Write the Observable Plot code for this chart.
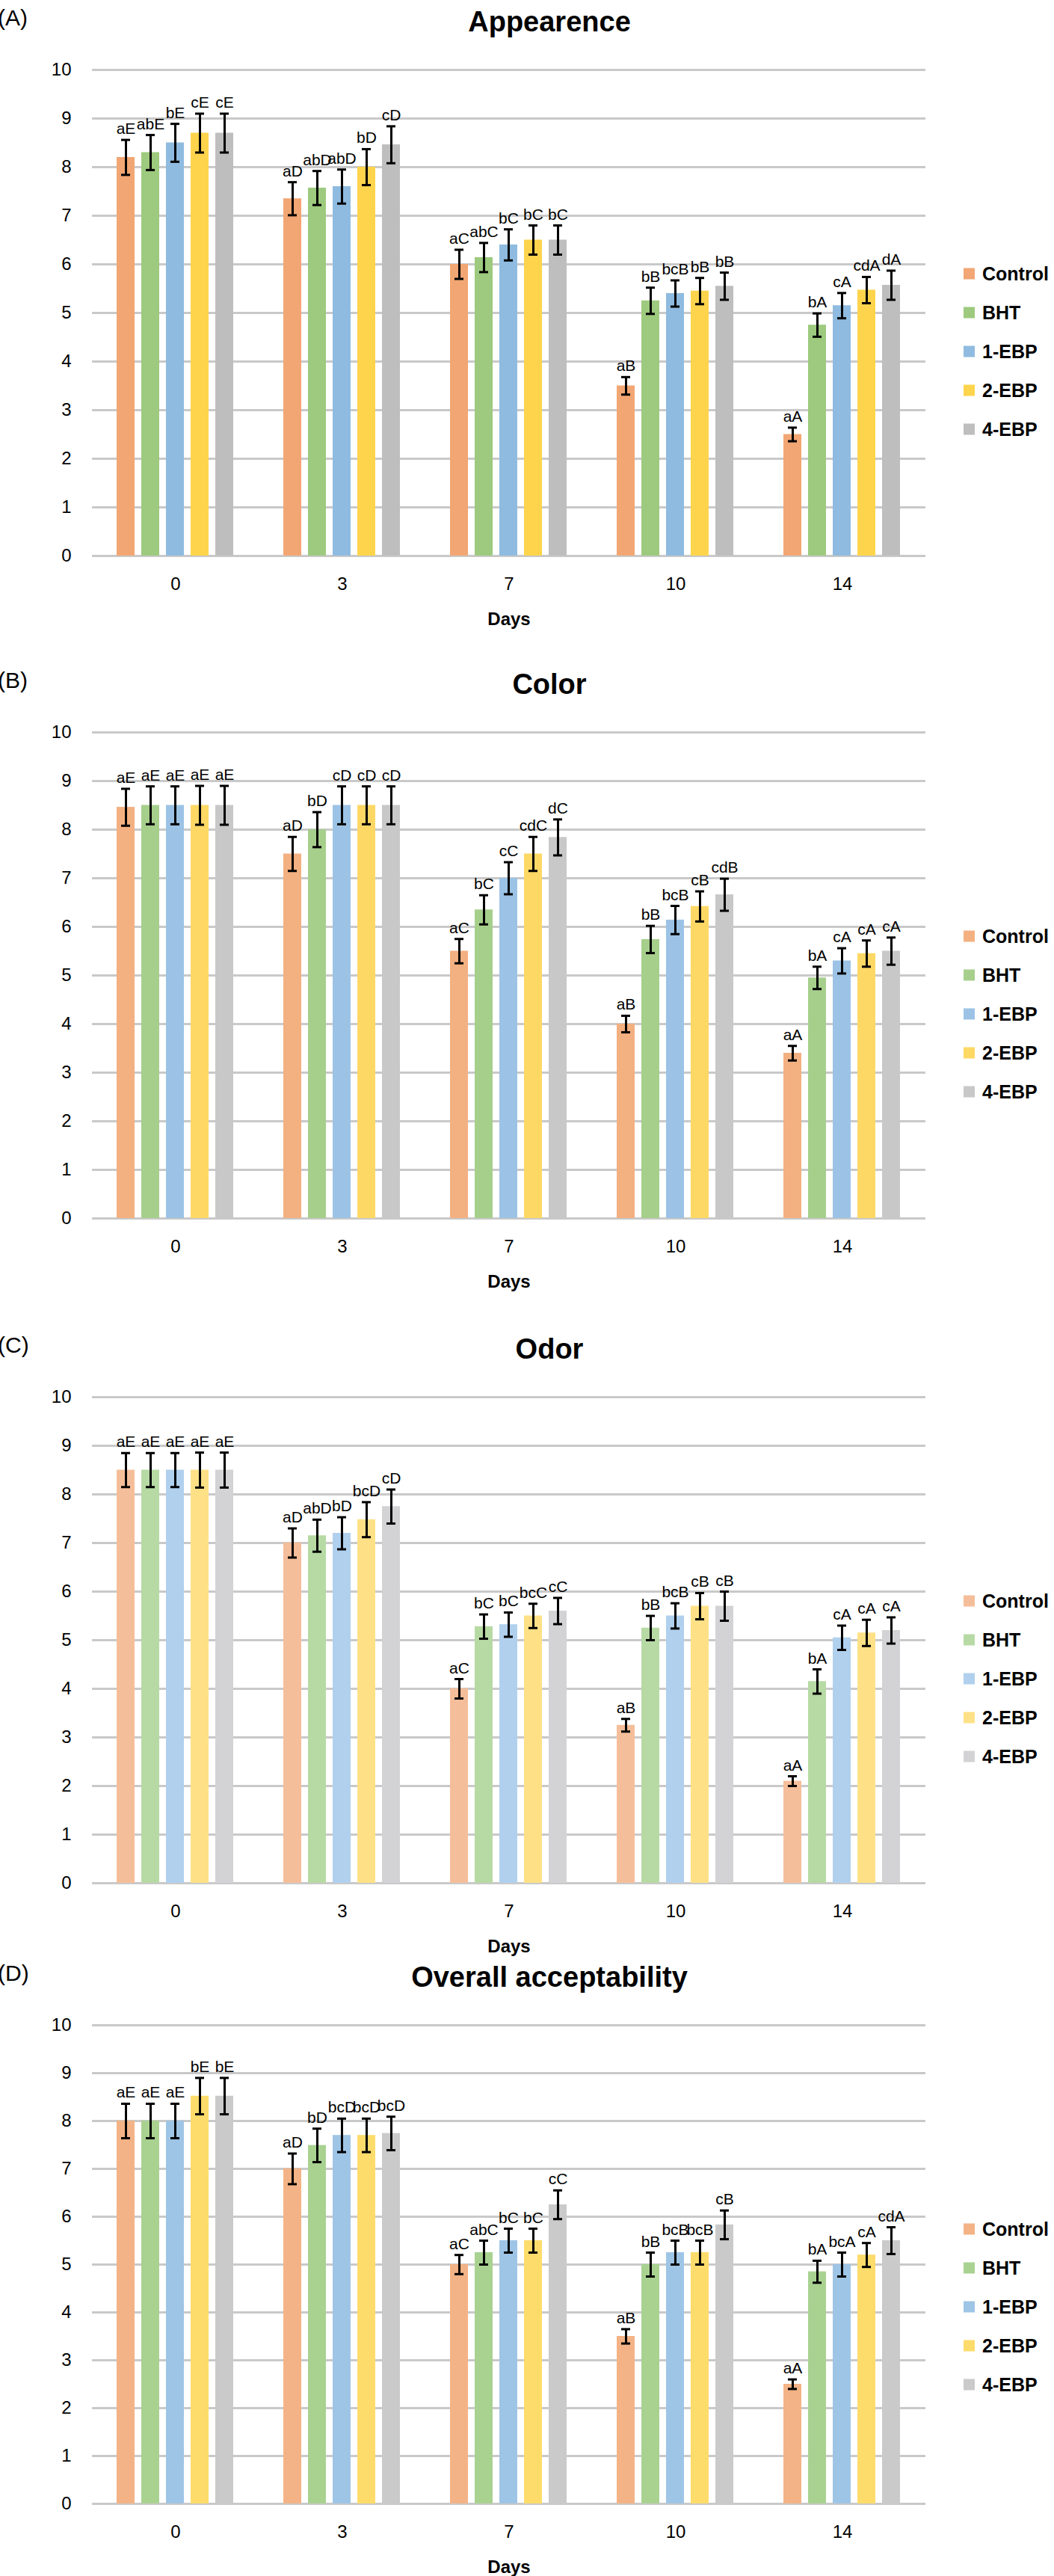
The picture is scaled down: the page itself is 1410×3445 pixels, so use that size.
<!DOCTYPE html>
<html>
<head>
<meta charset="utf-8">
<script src="https://cdn.jsdelivr.net/npm/d3@7"></script>
<script src="https://cdn.jsdelivr.net/npm/@observablehq/plot@0.6"></script>
<style>
  html, body { margin: 0; padding: 0; background: #fff; }
  body { width: 1410px; height: 3445px; position: relative; overflow: hidden;
         font-family: "Liberation Sans", Arial, Helvetica, sans-serif; color: #000; }
  .abs { position: absolute; white-space: nowrap; }
  .tag { font-size: 30px; font-weight: normal; }
  .title { font-size: 38px; font-weight: bold; transform: translate(-50%, -50%); }
  .days { font-size: 24px; font-weight: bold; transform: translate(-50%, -50%); }
  .leg { font-size: 25px; font-weight: bold; display: flex; align-items: center; transform: translateY(-50%); }
  .sw { width: 15px; height: 15px; margin-right: 10px; display: inline-block; }
</style>
</head>
<body>
<script>
// ---------- data ----------
const days = ["0", "3", "7", "10", "14"];
const series = ["Control", "BHT", "1-EBP", "2-EBP", "4-EBP"];

const appearanceMean = [
  [8.2, 8.3, 8.5, 8.7, 8.7],
  [7.35, 7.57, 7.6, 8.0, 8.46],
  [6.0, 6.14, 6.4, 6.5, 6.5],
  [3.5, 5.25, 5.4, 5.45, 5.55],
  [2.5, 4.75, 5.15, 5.47, 5.57]
];
const appearanceSd = [
  [0.36, 0.36, 0.39, 0.4, 0.4],
  [0.34, 0.35, 0.35, 0.37, 0.38],
  [0.3, 0.3, 0.32, 0.3, 0.3],
  [0.18, 0.27, 0.27, 0.27, 0.28],
  [0.14, 0.24, 0.26, 0.27, 0.3]
];
const appearanceLabels = [
  ["aE", "abE", "bE", "cE", "cE"],
  ["aD", "abD", "abD", "bD", "cD"],
  ["aC", "abC", "bC", "bC", "bC"],
  ["aB", "bB", "bcB", "bB", "bB"],
  ["aA", "bA", "cA", "cdA", "dA"]
];

const colorMean = [
  [8.46, 8.5, 8.5, 8.5, 8.5],
  [7.5, 8.0, 8.5, 8.5, 8.5],
  [5.5, 6.35, 7.0, 7.5, 7.84],
  [4.0, 5.74, 6.14, 6.42, 6.66],
  [3.4, 4.95, 5.3, 5.45, 5.5]
];
const colorSd = [
  [0.38, 0.39, 0.39, 0.4, 0.4],
  [0.35, 0.36, 0.39, 0.39, 0.39],
  [0.25, 0.3, 0.33, 0.35, 0.37],
  [0.17, 0.28, 0.29, 0.31, 0.33],
  [0.15, 0.23, 0.26, 0.27, 0.28]
];
const colorLabels = [
  ["aE", "aE", "aE", "aE", "aE"],
  ["aD", "bD", "cD", "cD", "cD"],
  ["aC", "bC", "cC", "cdC", "dC"],
  ["aB", "bB", "bcB", "cB", "cdB"],
  ["aA", "bA", "cA", "cA", "cA"]
];

const odorMean = [
  [8.5, 8.5, 8.5, 8.5, 8.5],
  [7.0, 7.15, 7.2, 7.48, 7.75],
  [4.0, 5.28, 5.32, 5.5, 5.6],
  [3.25, 5.25, 5.5, 5.7, 5.7],
  [2.1, 4.15, 5.05, 5.15, 5.2]
];
const odorSd = [
  [0.35, 0.35, 0.35, 0.36, 0.36],
  [0.3, 0.33, 0.33, 0.36, 0.35],
  [0.2, 0.25, 0.25, 0.25, 0.27],
  [0.13, 0.25, 0.26, 0.27, 0.3],
  [0.1, 0.25, 0.25, 0.27, 0.27]
];
const odorLabels = [
  ["aE", "aE", "aE", "aE", "aE"],
  ["aD", "abD", "bD", "bcD", "cD"],
  ["aC", "bC", "bC", "bcC", "cC"],
  ["aB", "bB", "bcB", "cB", "cB"],
  ["aA", "bA", "cA", "cA", "cA"]
];

const overallMean = [
  [8.0, 8.0, 8.0, 8.52, 8.52],
  [7.0, 7.49, 7.7, 7.7, 7.74],
  [5.0, 5.25, 5.5, 5.5, 6.25],
  [3.5, 5.0, 5.25, 5.25, 5.83],
  [2.5, 4.85, 5.0, 5.2, 5.5]
];
const overallSd = [
  [0.36, 0.36, 0.36, 0.38, 0.38],
  [0.32, 0.35, 0.35, 0.35, 0.35],
  [0.2, 0.25, 0.25, 0.25, 0.3],
  [0.15, 0.25, 0.25, 0.25, 0.3],
  [0.1, 0.23, 0.25, 0.25, 0.28]
];
const overallLabels = [
  ["aE", "aE", "aE", "bE", "bE"],
  ["aD", "bD", "bcD", "bcD", "bcD"],
  ["aC", "abC", "bC", "bC", "cC"],
  ["aB", "bB", "bcB", "bcB", "cB"],
  ["aA", "bA", "bcA", "cA", "cdA"]
];

const yTicks = [0, 1, 2, 3, 4, 5, 6, 7, 8, 9, 10];

const paletteA = ["#F2A673", "#9DCA7E", "#8FBBE0", "#FDD44C", "#BEBEBE"];
const paletteB = ["#F3B081", "#A6CF8C", "#9CC3E6", "#FDD865", "#C8C8C8"];
const paletteC = ["#F5BE9A", "#B7DAA4", "#B0D0EE", "#FEE186", "#D3D3D5"];
const paletteD = ["#F3B386", "#A9D291", "#9FC5E6", "#FEDC6B", "#CACACA"];

// ---------- panels ----------
const panels = [
  {tag: "(A)", title: "Appearence", mean: appearanceMean, sd: appearanceSd, labels: appearanceLabels, colors: paletteA, top: 93, unit: 65},
  {tag: "(B)", title: "Color", mean: colorMean, sd: colorSd, labels: colorLabels, colors: paletteB, top: 979, unit: 65},
  {tag: "(C)", title: "Odor", mean: odorMean, sd: odorSd, labels: odorLabels, colors: paletteC, top: 1868, unit: 65},
  {tag: "(D)", title: "Overall acceptability", mean: overallMean, sd: overallSd, labels: overallLabels, colors: paletteD, top: 2708, unit: 64}
];

const W = 1410, ML = 122, MR = 171, MT = 40, MB = 110;
const FONT = "'Liberation Sans', Arial, Helvetica, sans-serif";

function add(el) { document.body.appendChild(el); return el; }
function div(cls, text, left, top) {
  const d = document.createElement("div");
  d.className = "abs " + cls;
  if (text != null) d.textContent = text;
  d.style.left = left + "px";
  d.style.top = top + "px";
  return add(d);
}

for (const p of panels) {
  const rows = days.flatMap((d, i) => series.map((s, j) => ({
    day: d, series: s, mean: p.mean[i][j], sd: p.sd[i][j], label: p.labels[i][j],
    lo: p.mean[i][j] - p.sd[i][j], hi: p.mean[i][j] + p.sd[i][j]
  })));
  const innerH = p.unit * 10;
  const chart = Plot.plot({
    width: W,
    height: MT + innerH + MB,
    marginLeft: ML, marginRight: MR, marginTop: MT, marginBottom: MB,
    style: {fontFamily: FONT, fontSize: "24px", color: "#000", background: "transparent", overflow: "visible"},
    fx: {domain: days, padding: 0, axis: "bottom", tickSize: 0, tickPadding: 28, label: null},
    x: {domain: series, paddingInner: 0.265, paddingOuter: 0.92, axis: null},
    y: {domain: [0, 10], ticks: yTicks, tickSize: 0, tickPadding: 28, label: null, tickFormat: d3.format("d")},
    color: {domain: series, range: p.colors},
    marks: [
      Plot.ruleY(yTicks, {stroke: "#c9c9c9", strokeWidth: 3}),
      Plot.barY(rows, {fx: "day", x: "series", y: "mean", fill: "series"}),
      Plot.ruleX(rows, {fx: "day", x: "series", y1: "lo", y2: "hi", stroke: "#000", strokeWidth: 3}),
      Plot.tickY(rows, {fx: "day", x: "series", y: "hi", stroke: "#000", strokeWidth: 3, inset: 6}),
      Plot.tickY(rows, {fx: "day", x: "series", y: "lo", stroke: "#000", strokeWidth: 3, inset: 6}),
      Plot.text(rows, {fx: "day", x: "series", y: "hi", text: "label", dy: -8, lineAnchor: "bottom", fontSize: 21, fill: "#000"})
    ]
  });
  chart.style.position = "absolute";
  chart.style.left = "0px";
  chart.style.top = (p.top - MT) + "px";
  add(chart);

  div("tag", p.tag, -3, p.top - 86);
  div("title", p.title, 735, p.top - 64);
  div("days", "Days", 681, p.top + innerH + 85);

  series.forEach((s, j) => {
    const row = div("leg", null, 1289, p.top + 273 + j * 52);
    const sw = document.createElement("span");
    sw.className = "sw";
    sw.style.background = p.colors[j];
    row.appendChild(sw);
    const t = document.createElement("span");
    t.textContent = s;
    row.appendChild(t);
  });
}
</script>
</body>
</html>
